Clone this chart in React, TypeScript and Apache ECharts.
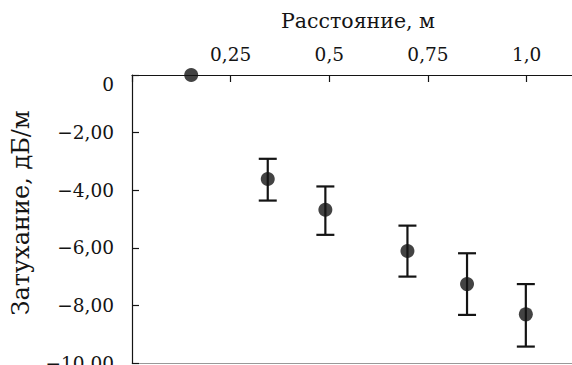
import React, { useEffect, useRef } from "react";
import * as echarts from "echarts";

const distances = [0.15, 0.344, 0.49, 0.698, 0.849, 0.998];
const attenuation = [0, -3.61, -4.68, -6.11, -7.26, -8.31];
const errHigh = [null, -2.91, -3.87, -5.23, -6.19, -7.26];
const errLow = [null, -4.36, -5.55, -7.0, -8.33, -9.43];
const xTicks = [0.25, 0.5, 0.75, 1.0];
const yTicks = [0, -2, -4, -6, -8, -10];
const xTitle = "Расстояние, м";
const yTitle = "Затухание, дБ/м";

const FONT = "DejaVu Serif";
const INK = "#141414";

export default function App() {
  const ref = useRef<HTMLDivElement>(null);
  useEffect(() => {
    if (!ref.current) return;
    const chart = echarts.init(ref.current, null, { renderer: "svg" });
    const points = distances.map((d, i) => [d, attenuation[i]]);
    const bars = distances
      .map((d, i) => [d, errLow[i], errHigh[i]])
      .filter((r) => r[1] !== null);
    const fmtX = (v: number) => {
      if (!xTicks.some((t) => Math.abs(t - v) < 1e-6)) return "";
      if (Math.abs(v - 0.5) < 1e-6) return "0,5";
      if (Math.abs(v - 1) < 1e-6) return "1,0";
      return String(v).replace(".", ",");
    };
    const fmtY = (v: number) => {
      if (!yTicks.includes(v)) return "";
      if (v === 0) return "{z|0}";
      return "\u2212" + Math.abs(v).toFixed(2).replace(".", ",");
    };
    chart.setOption({
      animation: false,
      backgroundColor: "#ffffff",
      grid: {
        left: 132,
        right: 0,
        top: 75,
        bottom: 2,
        containLabel: false,
        outerBoundsMode: "none",
      },
      xAxis: [
        {
          type: "value",
          position: "top",
          min: 0,
          max: 1.115,
          interval: 0.25,
          name: xTitle,
          nameLocation: "middle",
          nameGap: 44,
          nameTextStyle: { fontFamily: FONT, fontSize: 20.5, color: INK, padding: [0, 0, 0, 12] },
          axisLine: { show: true, lineStyle: { color: INK, width: 1.2 } },
          axisTick: { show: true, inside: true, length: 7, lineStyle: { color: INK, width: 1.2 } },
          axisLabel: {
            fontFamily: FONT,
            fontSize: 18.5,
            color: INK,
            margin: 11,
            formatter: fmtX,
            showMaxLabel: false,
          },
          splitLine: { show: false },
        },
        {
          type: "value",
          position: "bottom",
          min: 0,
          max: 1.115,
          axisLine: { show: true, onZero: false, lineStyle: { color: "#999999", width: 1.2 } },
          axisTick: { show: false },
          axisLabel: { show: false },
          splitLine: { show: false },
        },
      ],
      yAxis: {
        type: "value",
        min: -10,
        max: 0,
        interval: 2,
        name: yTitle,
        nameLocation: "middle",
        nameGap: 99,
        nameRotate: 90,
        nameTextStyle: { fontFamily: FONT, fontSize: 24, color: INK, padding: [0, 0, 0, 12] },
        axisLine: { show: true, lineStyle: { color: INK, width: 1.2 } },
        axisTick: { show: true, inside: true, length: 7, lineStyle: { color: INK, width: 1.2 } },
        axisLabel: {
          fontFamily: FONT,
          fontSize: 18.5,
          color: INK,
          margin: 18,
          formatter: fmtY,
          rich: {
            z: { fontFamily: FONT, fontSize: 18.5, color: INK, padding: [18, 0, 0, 0] },
          },
        },
        splitLine: { show: false },
      },
      series: [
        {
          type: "custom",
          xAxisIndex: 0,
          data: bars,
          renderItem: (params: any, api: any) => {
            const x = api.value(0);
            const lo = api.coord([x, api.value(1)]);
            const hi = api.coord([x, api.value(2)]);
            const hw = 9;
            const style = { stroke: INK, lineWidth: 2.2 };
            return {
              type: "group",
              children: [
                { type: "line", shape: { x1: lo[0], y1: lo[1], x2: hi[0], y2: hi[1] }, style },
                { type: "line", shape: { x1: lo[0] - hw, y1: lo[1], x2: lo[0] + hw, y2: lo[1] }, style },
                { type: "line", shape: { x1: hi[0] - hw, y1: hi[1], x2: hi[0] + hw, y2: hi[1] }, style },
              ],
            };
          },
          z: 2,
        },
        {
          type: "scatter",
          xAxisIndex: 0,
          data: points,
          symbol: "circle",
          symbolSize: 14,
          itemStyle: { color: INK },
          clip: false,
          z: 3,
        },
      ],
    });
    return () => chart.dispose();
  }, []);
  return (
    <div
      ref={ref}
      style={{ position: "fixed", left: 0, top: 0, width: 572, height: 365, background: "#fff" }}
    />
  );
}
